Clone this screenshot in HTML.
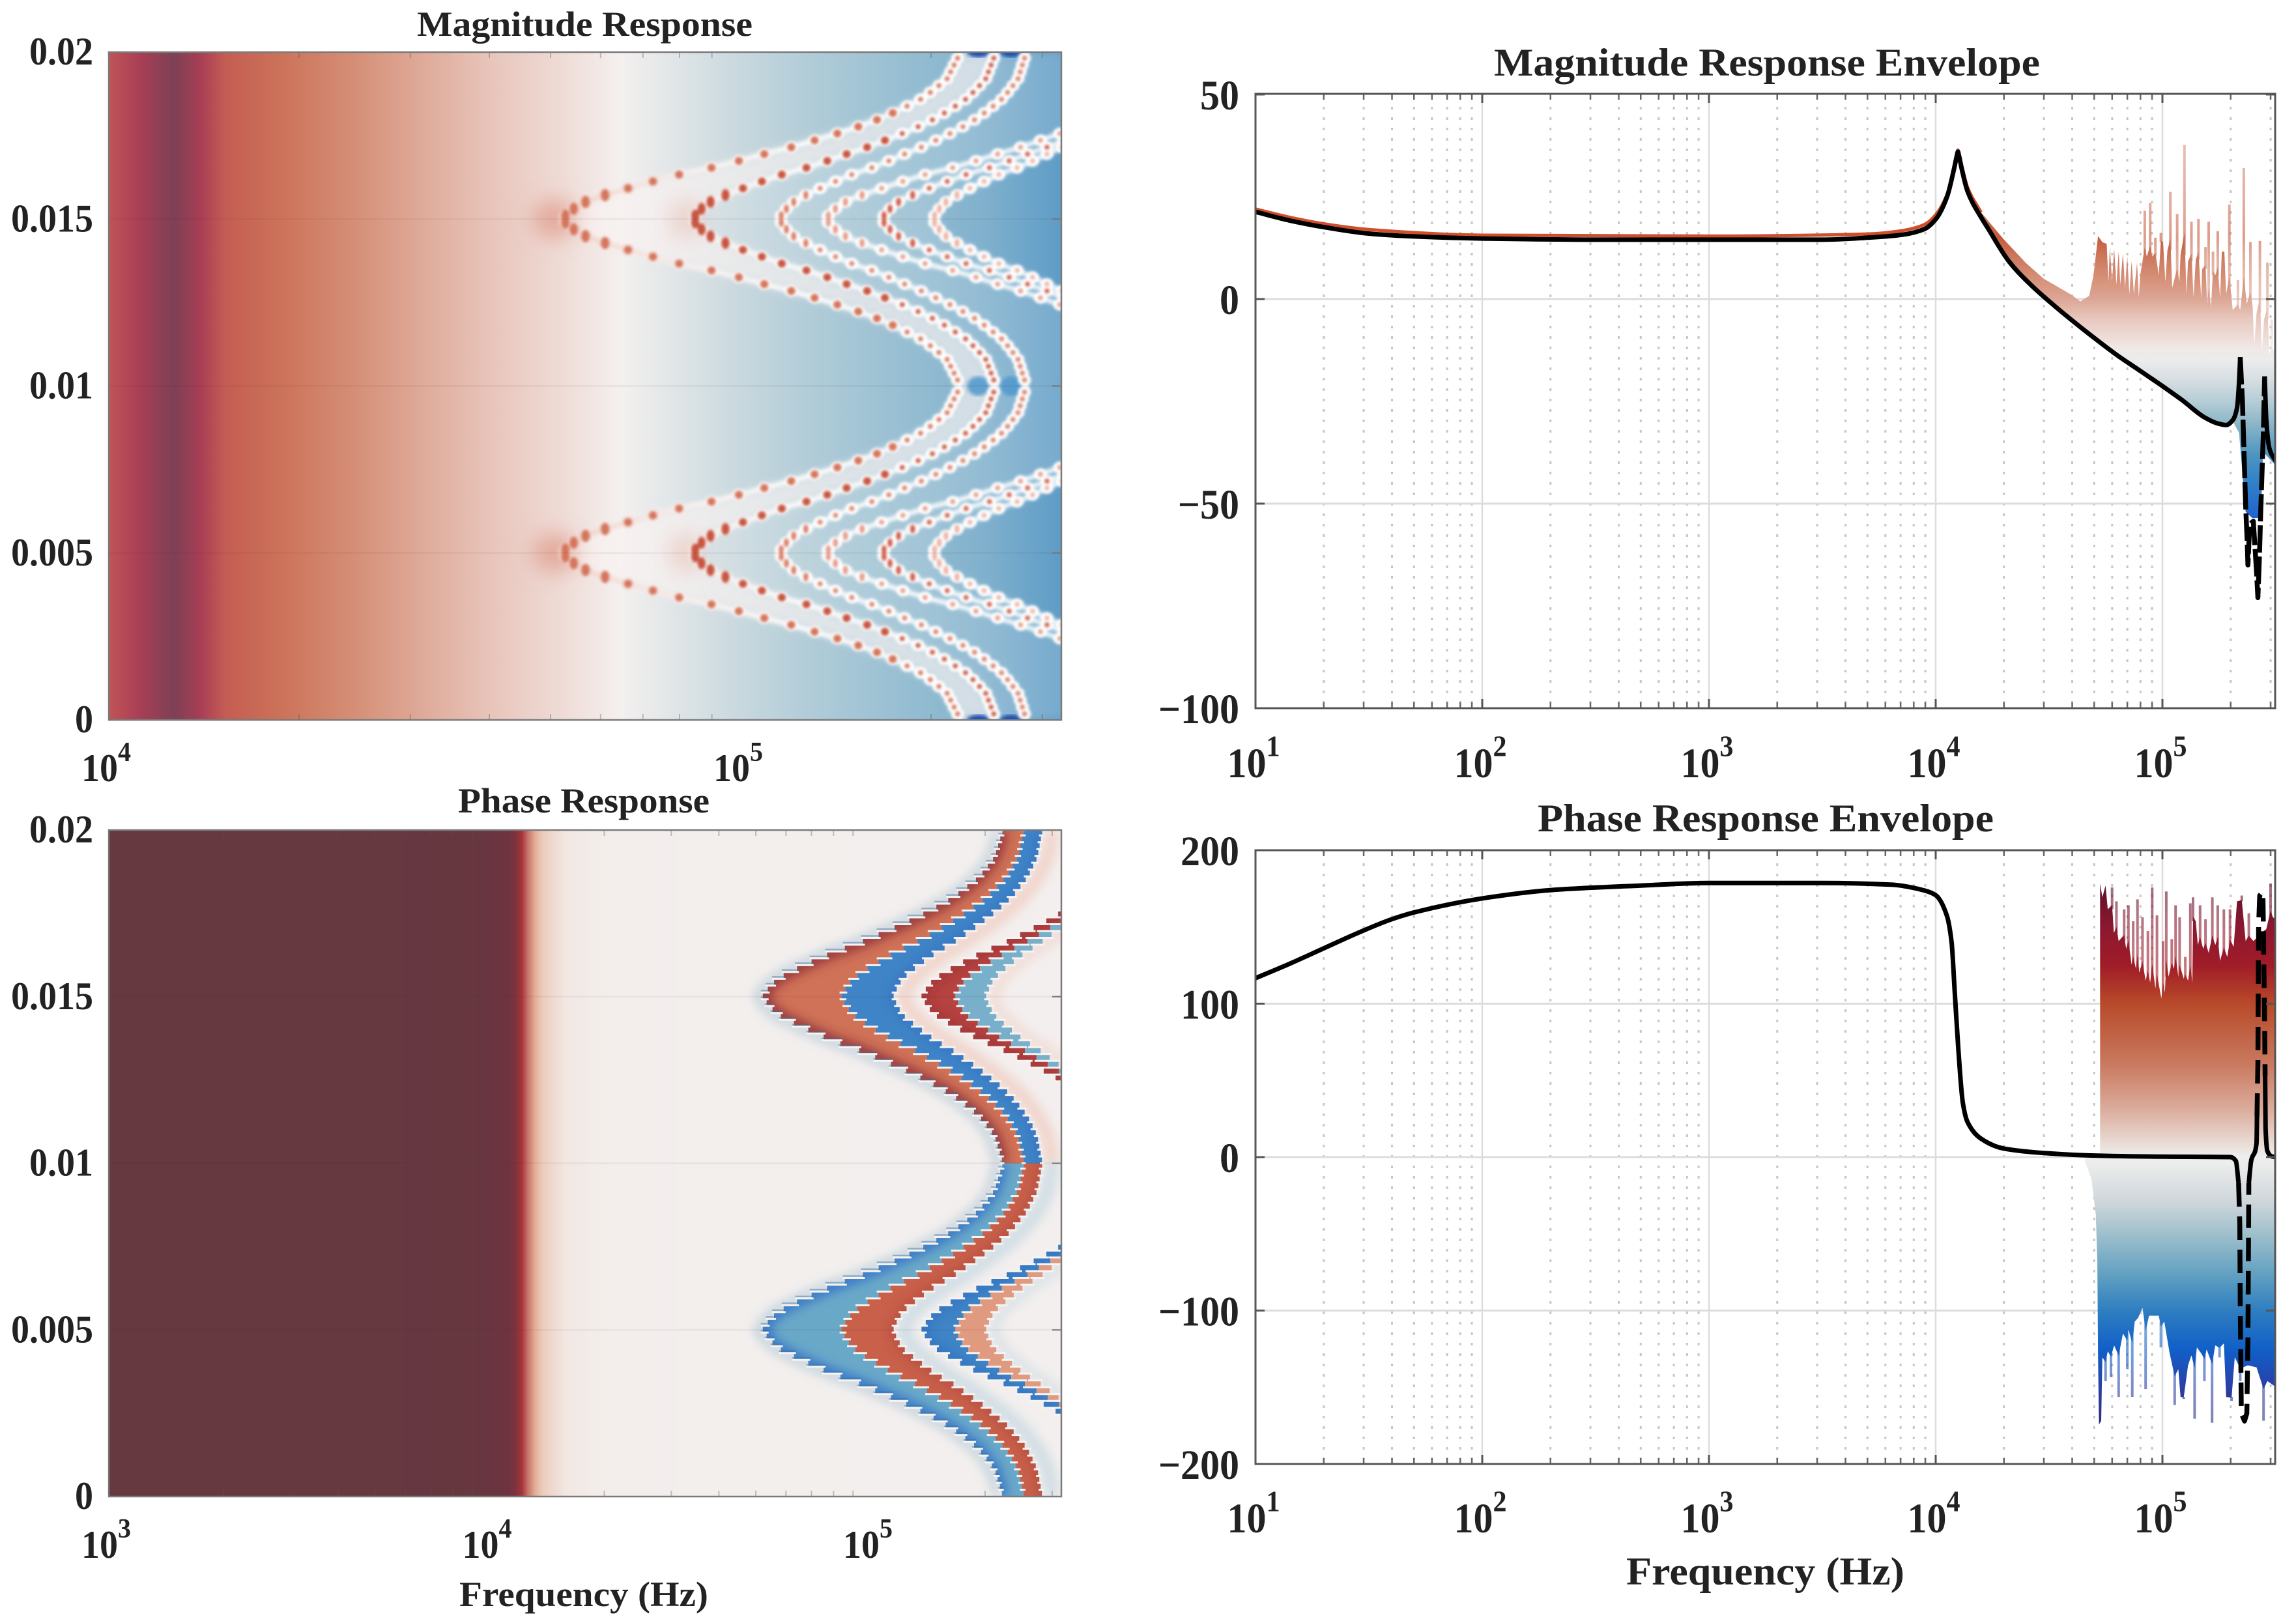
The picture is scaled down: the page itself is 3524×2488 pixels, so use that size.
<!DOCTYPE html>
<html lang="en">
<head>
<meta charset="utf-8">
<title>Magnitude and Phase Response</title>
<style>
html,body{margin:0;padding:0;background:#fff;width:3524px;height:2488px;overflow:hidden}
svg{display:block}
text{font-family:"Liberation Serif",serif;font-weight:700;fill:#222}
</style>
</head>
<body>
<svg id="figure" xmlns="http://www.w3.org/2000/svg" width="3524" height="2488" viewBox="0 0 3524 2488">
<defs id="defs">
<filter id="b1" x="-5%" y="-5%" width="110%" height="110%"><feGaussianBlur stdDeviation="1.4"/></filter>
<filter id="b2" x="-5%" y="-5%" width="110%" height="110%"><feGaussianBlur stdDeviation="2"/></filter>
<filter id="b3" x="-5%" y="-5%" width="110%" height="110%"><feGaussianBlur stdDeviation="3"/></filter>
<filter id="b8" x="-10%" y="-10%" width="120%" height="120%"><feGaussianBlur stdDeviation="8"/></filter>
<filter id="b16" x="-150%" y="-150%" width="400%" height="400%"><feGaussianBlur stdDeviation="16"/></filter>
</defs>
<rect width="3524" height="2488" fill="#fff"/>
<g id="panelA"></g>
<g id="panelB"></g>
<g id="panelC"></g>
<g id="panelD"></g>
<text x="640" y="55" font-size="54" textLength="515" lengthAdjust="spacingAndGlyphs">Magnitude Response</text>
<text x="703" y="1247" font-size="54" textLength="386" lengthAdjust="spacingAndGlyphs">Phase Response</text>
<text x="705" y="2465" font-size="54" textLength="382" lengthAdjust="spacingAndGlyphs">Frequency (Hz)</text>
<text x="2293" y="116" font-size="60" textLength="838" lengthAdjust="spacingAndGlyphs">Magnitude Response Envelope</text>
<text x="2360" y="1276" font-size="60" textLength="700" lengthAdjust="spacingAndGlyphs">Phase Response Envelope</text>
<text x="2496" y="2432" font-size="60" textLength="427" lengthAdjust="spacingAndGlyphs">Frequency (Hz)</text>
</svg>
<script>
// ---------- Heatmap resonance branches (log10 Hz) ----------
const branchTipLogF   = [4.716, 4.923, 5.060, 5.133, 5.222, 5.303];
const branchCrestLogF = [5.348, 5.404, 5.452, 5.671, 5.678, 5.660];
const branchShapeD = [0, .06, .11, .15, .19, .233, .274, .308, .35, .39, .43, .47, .507, .548, .589, .63, .67, .71, .753, .795, .836, 1];
const branchShapeS = [0, .03, .066, .118, .175, .241, .307, .377, .447, .509, .575, .632, .684, .737, .785, .825, .86, .895, .921, .943, .965, 1];
const branchPeriod = 0.01;
const sampleStepT = 0.000205;
const branchDotColor = ['#d4745c', '#c65440', '#d87e68', '#e49a88', '#cf5c48', '#ecb4a6'];

// Background of the heatmaps
const heatLogF = [4.0, 4.05, 4.103, 4.145, 4.185, 4.27, 4.386, 4.5, 4.61, 4.72, 4.81, 4.89, 5.0, 5.11, 5.28, 5.39, 5.507];
const heatDb   = [19, 24, 36, 24, 17, 12, 5.5, -0.3, -5.6, -10, -15, -18, -22, -25.5, -30, -33, -38];
const magCmapDb    = [-55, -45, -38, -30, -22, -15, -10, -5, 0, 5, 10, 15, 19, 24, 36];
const magCmapColor = ['#1c5fd0', '#3d88c3', '#5e9cc6', '#93bcd1', '#c8d8de', '#f4f0ef', '#efdcd7', '#e7c3b8', '#dfa998', '#d69078', '#cf7b60', '#c8654f', '#c05457', '#a83e55', '#7d4055'];
const phaseHeatDeg   = [0, 5, 12, 35, 105, 157, 180];
const phaseHeatColor = ['#f3efee', '#f3eeec', '#f2e8e3', '#e4b098', '#a83438', '#6e3340', '#653840'];
const phaseLobeUpper = ['#cf7257', '#3f84c6', '#f7ebe6', '#b5433f', '#78afcb'];
const phaseLobeLower = ['#6aa8c8', '#c8604a', '#f2f2f2', '#3f84c6', '#e09a80'];

// ---------- Magnitude envelope ----------
const magLogF = [1, 1.15, 1.3, 1.5, 1.7, 2, 2.5, 3, 3.5, 3.7, 3.85, 3.95, 4, 4.05, 4.08, 4.094, 4.098, 4.102, 4.115, 4.14, 4.2, 4.227, 4.323, 4.419, 4.514, 4.61, 4.706, 4.802, 4.898, 4.993, 5.089, 5.185, 5.243, 5.281, 5.31, 5.329, 5.338, 5.343, 5.353, 5.367, 5.374, 5.377, 5.385, 5.401, 5.415, 5.421, 5.428, 5.434, 5.445, 5.451, 5.458, 5.472, 5.501];
const magDb   = [21.3, 19.2, 17.6, 16, 15.3, 14.8, 14.5, 14.5, 14.5, 15, 15.7, 17.1, 19.5, 25, 31.6, 35.2, 36, 35.2, 31.8, 26.4, 20, 17.6, 9.2, 3.5, -1.2, -5.6, -9.8, -13.8, -17.4, -21, -24.8, -28.9, -30.4, -30.8, -29.6, -26.6, -20.4, -14.2, -25, -50.4, -59.7, -65, -55, -54.3, -66.6, -73, -62.8, -51.2, -32.7, -18.9, -29.6, -36.6, -39.7];
const magDashFromLogF = 5.343;
const upperLineLogF = [1, 1.15, 1.3, 1.5, 2, 3, 3.7, 3.85, 3.95, 4, 4.05, 4.08, 4.094, 4.098, 4.102, 4.115, 4.14, 4.2];
const upperLineDb   = [22, 20, 18.4, 17, 15.6, 15.4, 15.9, 16.7, 18.2, 20.6, 25.6, 32, 35.6, 36.4, 35.6, 32.6, 27.4, 21.2];
const magTopLogF = [4.2, 4.3, 4.4, 4.476, 4.6, 4.638, 4.677, 4.696, 4.716, 4.735, 4.754, 4.762, 4.768, 4.778, 4.787, 4.797, 4.807, 4.814, 4.826, 4.835, 4.845, 4.854, 4.864, 4.874, 4.888, 4.896, 4.902, 4.922, 4.931, 4.946, 4.955, 4.969, 4.984, 4.993, 5.003, 5.013, 5.022, 5.035, 5.043, 5.065, 5.075, 5.08, 5.097, 5.106, 5.113, 5.128, 5.137, 5.147, 5.159, 5.171, 5.175, 5.19, 5.197, 5.204, 5.214, 5.223, 5.233, 5.244, 5.254, 5.262, 5.273, 5.281, 5.295, 5.31, 5.333, 5.343, 5.359, 5.372, 5.388, 5.398, 5.405, 5.415, 5.43, 5.439, 5.448, 5.463, 5.472, 5.482, 5.501];
const magTopDb   = [21.2, 14.6, 8.7, 5, 1, -0.6, 0.8, 5.8, 15.4, 13.9, 13.5, 4.2, 12.7, 4.2, 12.3, 3.5, 11.6, 3.5, 11.2, 2.7, 10.4, 1.2, 9.2, 1.2, 8.9, 0.4, 5.8, 21.6, 10.4, 23.5, 10.4, 15, 5.8, 16.2, 13.9, 4.2, 11.9, 26.2, 2.7, 20.8, 4.2, 10.8, 37.7, 1.2, 9.2, 18.9, 0.4, 9.6, 19.6, 0, 7.3, 12.7, -1.2, 18.9, -1.9, 11.6, 5.8, 16.6, 0.4, 11.6, 11.6, 1.2, 23.1, -2.7, 4.6, -2.7, 32, -1.2, 13.9, -1.9, -11.2, -3.5, 14.2, -12.7, -5, 8.9, -13.5, -5, -13.5];
const magBottomLogF = [5.319, 5.338, 5.367, 5.396, 5.434, 5.444, 5.501];
const magBottomDb   = [-30.8, -32.7, -52, -53.5, -53.5, -37.3, -40.8];
const envDbStops   = [-55, -45, -38, -30, -25, -20, -15, -12, -5, 0, 5, 10, 15, 22, 40];
const envDbColors  = ['#1c5fd0', '#3080c8', '#4f95c0', '#8fb8c8', '#b5cdd6', '#d5dde1', '#ececec', '#f0e8e6', '#e8c8bf', '#dca695', '#d69078', '#cc7a60', '#c85a3c', '#cf7058', '#d99a90'];

// ---------- Phase envelope ----------
const phaseLogF = [1, 1.15, 1.3, 1.45, 1.6, 1.7, 2, 2.3, 2.7, 3, 3.5, 3.8, 3.95, 4, 4.05, 4.07, 4.085, 4.1, 4.12, 4.14, 4.2, 4.3, 4.5, 4.7, 5, 5.3, 5.324, 5.336, 5.341, 5.343, 5.348, 5.362, 5.372, 5.377, 5.381, 5.391, 5.415, 5.421, 5.424, 5.429, 5.443, 5.451, 5.455, 5.463, 5.482, 5.501];
const phaseDeg  = [116.6, 126, 136, 146, 155, 159.5, 168.6, 174, 177, 178.7, 178.7, 177.6, 173.8, 170.7, 157, 140, 105, 70, 35, 23, 12, 5.6, 2.4, 1, 0.3, 0, -2.6, -17, -43, -94, -167, -172, -167, -120, -17, -2.6, 9, 61, 151, 170.5, 173, 86.6, 19, 3.9, 0.5, 0];
const phaseDashRanges = [[5.336, 5.381], [5.417, 5.453]];
const phaseTopLogF = [4.725, 4.735, 4.749, 4.759, 4.778, 4.786, 4.797, 4.807, 4.831, 4.84, 4.85, 4.864, 4.871, 4.883, 4.89, 4.898, 4.912, 4.926, 4.936, 4.946, 4.955, 4.969, 4.976, 4.995, 5.003, 5.011, 5.017, 5.027, 5.041, 5.051, 5.058, 5.07, 5.076, 5.094, 5.101, 5.113, 5.123, 5.132, 5.135, 5.147, 5.156, 5.166, 5.18, 5.19, 5.204, 5.22, 5.233, 5.244, 5.254, 5.271, 5.286, 5.298, 5.314, 5.329, 5.35, 5.367, 5.381, 5.401, 5.42, 5.434, 5.458, 5.477, 5.487, 5.501];
const phaseTopDeg  = [178.3, 169.3, 177, 161.5, 175.7, 146, 166.7, 140.8, 161.5, 135.7, 164.1, 125.3, 153.7, 122.7, 168, 120.2, 156.3, 115, 147.3, 113.7, 175.7, 109.8, 157.6, 103.4, 140.8, 107.2, 173.1, 117.6, 142.1, 122.7, 164.1, 117.6, 156.3, 116.3, 130.5, 115, 165.4, 113.7, 169.3, 153.7, 138.2, 164.1, 135.7, 155, 133.1, 169.3, 138.2, 164.1, 127.9, 161.5, 130.5, 161.5, 137, 166.7, 170.5, 140.8, 158.9, 140.8, 143.4, 146, 148.6, 178.3, 156.3, 155];
const phaseLowLogF = [4.658, 4.687, 4.706, 4.713, 4.716, 4.72, 4.73, 4.735, 4.749, 4.759, 4.773, 4.787, 4.807, 4.826, 4.845, 4.85, 4.867, 4.878, 4.893, 4.912, 4.926, 4.941, 4.984, 4.993, 5.008, 5.032, 5.054, 5.07, 5.08, 5.094, 5.113, 5.128, 5.142, 5.152, 5.171, 5.185, 5.195, 5.219, 5.233, 5.252, 5.271, 5.281, 5.305, 5.319, 5.343, 5.377, 5.415, 5.446, 5.463, 5.501];
const phaseLowDeg  = [-2.6, -14.2, -37.5, -68.5, -130.5, -174.4, -171.8, -130.5, -146, -126.6, -143.4, -122.7, -156.3, -115, -138.2, -112.4, -156.3, -107.2, -104.7, -98.2, -151.2, -103.4, -103.4, -124, -107.2, -127.9, -161.5, -138.2, -156.3, -157.6, -135.7, -129.2, -170.5, -124, -127.9, -146, -125.3, -173.1, -122.7, -130.5, -121.4, -156.3, -158.9, -130.5, -146, -135.7, -137, -171.8, -146, -149.9];
const phaseFillDeg   = [-175, -150, -125, -100, -80, -50, -30, -5, 0, 5, 30, 60, 100, 125, 150, 178];
const phaseFillColor = ['#2c2c70', '#2a3fa8', '#1060c8', '#2f7ec0', '#5a9cc0', '#9fc0cc', '#cdd6da', '#ececec', '#eeeeee', '#ece4e0', '#dcae9e', '#c97a60', '#b84a2a', '#a01c28', '#8a1830', '#5e1028'];

// ---------- Axis ticks ----------
const timeTicks = [0, 0.005, 0.01, 0.015, 0.02];
const timeTickLabels = ['0', '0.005', '0.01', '0.015', '0.02'];
const magHeatDecades = [4, 5];
const phaseHeatDecades = [3, 4, 5];
const envelopeDecades = [1, 2, 3, 4, 5];
const magTicks = [50, 0, -50, -100];
const magTickLabels = ['50', '0', '\u221250', '\u2212100'];
const phaseTicks = [200, 100, 0, -100, -200];
const phaseTickLabels = ['200', '100', '0', '\u2212100', '\u2212200'];
const minorMultiples = [2, 3, 4, 5, 6, 7, 8, 9];

// ---------- Axis functions ----------
const xA = v => 167 + (v - 4) * 970;
const yA = t => 1105 - t / 0.02 * 1025;
const xB = v => 167 + (v - 3) * 584.5;
const yB = t => 2297 - t / 0.02 * 1023;
const xE = v => 1927 + (v - 1) * 348;
const yC = v => 459 - v * 6.28;
const yD = v => 1776 - v * 2.355;

const NS = 'http://www.w3.org/2000/svg';
function mk(tag, attrs, parent) {
  const e = document.createElementNS(NS, tag);
  for (const k in attrs) e.setAttribute(k, attrs[k]);
  (parent || document.getElementById('figure')).appendChild(e);
  return e;
}
function interp(xs, ys, x) {
  if (x <= xs[0]) return ys[0];
  for (let i = 1; i < xs.length; i++) if (x <= xs[i]) return ys[i - 1] + (ys[i] - ys[i - 1]) * (x - xs[i - 1]) / (xs[i] - xs[i - 1]);
  return ys[ys.length - 1];
}
function colorAt(vals, cols, v) {
  if (v <= vals[0]) return cols[0];
  for (let i = 1; i < vals.length; i++) if (v <= vals[i]) {
    const f = (v - vals[i - 1]) / (vals[i] - vals[i - 1]);
    const a = cols[i - 1], b = cols[i];
    let s = '#';
    for (let j = 1; j < 7; j += 2) {
      const c = Math.round(parseInt(a.substr(j, 2), 16) * (1 - f) + parseInt(b.substr(j, 2), 16) * f);
      s += (c < 16 ? '0' : '') + c.toString(16);
    }
    return s;
  }
  return cols[cols.length - 1];
}
function branchLogF(b, t) {
  const p = ((t % branchPeriod) + branchPeriod) % branchPeriod;
  const d = Math.abs(p - branchPeriod / 2) / (branchPeriod / 2);
  return branchTipLogF[b] + (branchCrestLogF[b] - branchTipLogF[b]) * interp(branchShapeD, branchShapeS, d);
}
const defs = document.getElementById('defs');
function clipRect(id, x, y, w, h) {
  const c = mk('clipPath', { id: id }, defs);
  mk('rect', { x: x, y: y, width: w, height: h }, c);
}
clipRect('clipA', 167, 80, 1462, 1025);
clipRect('clipB', 167, 1274, 1462, 1023);
clipRect('clipC', 1927, 144, 1565, 943);
clipRect('clipD', 1927, 1305, 1565, 942);

function branchPath(b, t0, t1, X, Y) {
  let d = '';
  const n = Math.round((t1 - t0) / 0.00005);
  for (let i = 0; i <= n; i++) {
    const t = t0 + (t1 - t0) * i / n;
    d += (i ? 'L' : 'M') + X(branchLogF(b, t)).toFixed(1) + ' ' + Y(t).toFixed(1);
  }
  return d;
}
function bandPolygon(b0, b1, t0, t1, X, Y) {
  let a = [], c = [];
  const n = Math.round((t1 - t0) / 0.00005);
  for (let i = 0; i <= n; i++) {
    const t = t0 + (t1 - t0) * i / n;
    a.push(X(branchLogF(b0, t)).toFixed(1) + ',' + Y(t).toFixed(1));
    c.unshift(X(branchLogF(b1, t)).toFixed(1) + ',' + Y(t).toFixed(1));
  }
  return a.concat(c).join(' ');
}
function stairPoints(b, t0, t1, X, Y) {
  const pts = [];
  const n = Math.ceil((t1 - t0) / sampleStepT);
  for (let k = 0; k <= n; k++) {
    const t = Math.min(t1, t0 + k * sampleStepT);
    const tn = Math.min(t1, t + sampleStepT);
    const x = X(branchLogF(b, t + sampleStepT / 2));
    pts.push([x, Y(t)]);
    pts.push([x, Y(tn)]);
  }
  return pts;
}

// ---------- Shared axis decoration ----------
function heatFrame(panel, X, Y, x0, x1, y0, y1, decades, prefix) {
  const g = mk('g', {}, panel);
  
  
  timeTicks.forEach((t, i) => {
    if (i > 0 && i < timeTicks.length - 1) {
      const gl = mk('line', { x1: x0, x2: x1, y1: Y(t), y2: Y(t), stroke: '#402020', 'stroke-opacity': .05, 'stroke-width': 3 }, g);
      
      
      const tk = mk('line', { x1: x1 - 14, x2: x1, y1: Y(t), y2: Y(t), stroke: '#777', 'stroke-width': 2 }, g);
      
      
    }
    const lab = mk('text', { 'text-anchor': 'end', 'font-size': 56, transform: 'translate(' + 143 + ',' + (Y(t) + 19) + ') scale(1,1.07)' }, g);
    lab.textContent = timeTickLabels[i];
    
    
  });
  decades.forEach(dec => {
    minorMultiples.forEach(m => {
      const v = dec + Math.log10(m);
      if (X(v) < x1) {
        [y0, y1 - 9].forEach(yy => {
          const tk = mk('line', { x1: X(v), x2: X(v), y1: yy, y2: yy + 9, stroke: '#555', 'stroke-opacity': .35, 'stroke-width': 2 }, g);
          
          
        });
      }
    });
    const lab = mk('text', { 'text-anchor': 'middle', 'font-size': 56, transform: 'translate(' + (X(dec) - 4) + ',' + (y1 + 94) + ') scale(1,1.07)' }, g);
    
    
    const a = mk('tspan', {}, lab); a.textContent = '10';
    const b = mk('tspan', { dy: -29, 'font-size': 40 }, lab); b.textContent = String(dec);
  });
  const fr = mk('rect', { x: x0, y: y0, width: x1 - x0, height: y1 - y0, fill: 'none', stroke: '#7a7a7a', 'stroke-width': 2.5 }, g);
  
  
}
function lineFrameUnder(panel, yFn, ticks, x0, x1, y0, y1, prefix) {
  const g = mk('g', {}, panel);
  
  
  envelopeDecades.forEach(dec => {
    minorMultiples.forEach(m => {
      const v = dec + Math.log10(m);
      if (xE(v) < x1) {
        const l = mk('line', { x1: xE(v), x2: xE(v), y1: y0 + 20, y2: y1, stroke: '#c6c6c6', 'stroke-width': 3, 'stroke-dasharray': '4 12' }, g);
        
        
      }
    });
    if (dec > 1) {
      const l = mk('line', { x1: xE(dec), x2: xE(dec), y1: y0, y2: y1, stroke: '#dcdcdc', 'stroke-width': 2.5 }, g);
      
      
    }
  });
  ticks.forEach(t => {
    const l = mk('line', { x1: x0, x2: x1, y1: yFn(t), y2: yFn(t), stroke: '#dcdcdc', 'stroke-width': 3 }, g);
    
    
  });
}
function lineFrameOver(panel, yFn, ticks, labels, x0, x1, y0, y1, prefix, xLabBase) {
  const g = mk('g', {}, panel);
  
  
  ticks.forEach((t, i) => {
    [[x0, x0 + 14], [x1 - 14, x1]].forEach(p => {
      const l = mk('line', { x1: p[0], x2: p[1], y1: yFn(t), y2: yFn(t), stroke: '#555', 'stroke-width': 3 }, g);
      
      
    });
    const lab = mk('text', { 'text-anchor': 'end', 'font-size': 60, transform: 'translate(1902,' + (yFn(t) + 23) + ') scale(1,1.08)' }, g);
    lab.textContent = labels[i];
    
    
  });
  envelopeDecades.forEach(dec => {
    [[y0, y0 + 14], [y1 - 14, y1]].forEach(p => {
      const l = mk('line', { x1: xE(dec), x2: xE(dec), y1: p[0], y2: p[1], stroke: '#555', 'stroke-width': 3 }, g);
      
      
    });
    minorMultiples.forEach(m => {
      const v = dec + Math.log10(m);
      if (xE(v) < x1) {
        [[y0, y0 + 9], [y1 - 9, y1]].forEach(p => {
          const l = mk('line', { x1: xE(v), x2: xE(v), y1: p[0], y2: p[1], stroke: '#666', 'stroke-width': 2.5 }, g);
          
          
        });
      }
    });
    const lab = mk('text', { 'text-anchor': 'middle', 'font-size': 60, transform: 'translate(' + (xE(dec) - 3) + ',' + xLabBase + ') scale(1,1.08)' }, g);
    
    
    const a = mk('tspan', {}, lab); a.textContent = '10';
    const b = mk('tspan', { dy: -30, 'font-size': 42 }, lab); b.textContent = String(dec);
  });
  const fr = mk('rect', { x: x0, y: y0, width: x1 - x0, height: y1 - y0, fill: 'none', stroke: '#555', 'stroke-width': 3 }, g);
  
  
}

// ---------- Panel A: magnitude heatmap ----------
(function () {
  const panel = document.getElementById('panelA');
  const lg = mk('linearGradient', { id: 'heatBgA', gradientUnits: 'userSpaceOnUse', x1: xA(4), x2: xA(5.507), y1: 0, y2: 0 }, defs);
  heatLogF.forEach((v, i) => {
    mk('stop', { offset: (v - 4) / 1.507, 'stop-color': colorAt(magCmapDb, magCmapColor, heatDb[i]) }, lg);
  });
  const lineGrad = mk('linearGradient', { id: 'haloA', gradientUnits: 'userSpaceOnUse', x1: xA(4.7), x2: xA(5.1), y1: 0, y2: 0 }, defs);
  mk('stop', { offset: 0, 'stop-color': '#eecabf' }, lineGrad);
  mk('stop', { offset: .55, 'stop-color': '#f8f0ee' }, lineGrad);
  mk('stop', { offset: 1, 'stop-color': '#ffffff' }, lineGrad);

  const g = mk('g', { 'clip-path': 'url(#clipA)' }, panel);
  
  
  const bg = mk('rect', { x: 167, y: 80, width: 1462, height: 1025, fill: 'url(#heatBgA)' }, g);
  
  

  const lobes = [[0, 0.01], [0.01, 0.02]];
  lobes.forEach(l => {
    const pale = mk('polygon', { points: bandPolygon(0, 5, l[0], l[1], xA, yA), fill: '#f3f3f4', 'fill-opacity': .16, filter: 'url(#b8)' }, g);
    
    
    const pale2 = mk('polygon', { points: bandPolygon(0, 1, l[0], l[1], xA, yA), fill: '#f8f2f0', 'fill-opacity': .62, filter: 'url(#b8)' }, g);
    
    
    const tc = (l[0] + l[1]) / 2;
    [[0, '#dd8c78', 34, .6], [1, '#e8b0a0', 24, .45]].forEach(s => {
      const cloud = mk('ellipse', { cx: xA(branchTipLogF[s[0]]) - 10, cy: yA(tc), rx: s[2], ry: 30, fill: s[1], 'fill-opacity': s[3], filter: 'url(#b16)' }, g);
      
      
    });
  });
  // blue spots between the crests
  [[0, 1, 0.01, '#4f96cc', .85], [1, 2, 0.01, '#4f96cc', .85], [0, 1, 0, '#1f4fb0', 1], [1, 2, 0, '#1f4fb0', 1], [0, 1, 0.02, '#1f4fb0', 1], [1, 2, 0.02, '#1f4fb0', 1]].forEach(s => {
    const mid = (branchCrestLogF[s[0]] + branchCrestLogF[s[1]]) / 2;
    const spot = mk('ellipse', { cx: xA(mid), cy: yA(s[2]), rx: 17, ry: s[2] === 0.01 ? 15 : 8, fill: s[3], 'fill-opacity': s[4], filter: 'url(#b3)' }, g);
    
    
  });
  const lines = mk('g', { filter: 'url(#b3)' }, g);
  
  
  branchTipLogF.forEach((_, b) => {
    lobes.forEach(l => {
      const p = mk('path', { d: branchPath(b, l[0], l[1], xA, yA), fill: 'none', stroke: 'url(#haloA)', 'stroke-width': 7, 'stroke-opacity': .95 }, lines);
      
      
    });
  });
  const halos = mk('g', { filter: 'url(#b2)' }, g);
  
  
  const dots = mk('g', { filter: 'url(#b2)' }, g);
  
  
  branchTipLogF.forEach((_, b) => {
    lobes.forEach(l => {
      const tc = (l[0] + l[1]) / 2;
      [-1, 1].forEach(dir => {
        for (let k = 0; k * sampleStepT < 0.0048; k++) {
          const t = tc + dir * (k + .5) * sampleStepT;
          const lf = branchLogF(b, t);
          if (xA(lf) > 1640) continue;
          const h = mk('ellipse', { cx: xA(lf), cy: yA(t), rx: 10, ry: 9, fill: 'url(#haloA)' }, halos);
          
          
          const steep = k < 4 ? 3 : 0;
          const big = (b === 0 || b === 1) && lf < 5.25 ? 2.4 : 0;
          const c = mk('ellipse', { cx: xA(lf), cy: yA(t), rx: 3.8 + big, ry: 3.8 + big + steep, fill: branchDotColor[b] }, dots);
          
          
        }
      });
    });
  });
  heatFrame(panel, xA, yA, 167, 1629, 80, 1105, magHeatDecades, 'magnitude-heatmap');
})();

// ---------- Panel B: phase heatmap ----------
(function () {
  const panel = document.getElementById('panelB');
  const lg = mk('linearGradient', { id: 'heatBgB', gradientUnits: 'userSpaceOnUse', x1: xB(3), x2: xB(5.5), y1: 0, y2: 0 }, defs);
  const maxLog = 4.6;
  for (let v = 3; v <= maxLog + 1e-9; v += 0.005) {
    mk('stop', { offset: (v - 3) / 2.5, 'stop-color': colorAt(phaseHeatDeg, phaseHeatColor, interp(phaseLogF, phaseDeg, v)) }, lg);
  }
  mk('stop', { offset: 1, 'stop-color': '#f3efee' }, lg);
  const g = mk('g', { 'clip-path': 'url(#clipB)' }, panel);
  
  
  const bg = mk('rect', { x: 167, y: 1274, width: 1462, height: 1023, fill: 'url(#heatBgB)' }, g);
  
  

  const lobes = [[0.01, 0.02, phaseLobeUpper, '#eebfae', '#8b2a35', '#2f66c0', '#8f2a30'], [0, 0.01, phaseLobeLower, '#b5d0dc', '#2f6cc8', '#a83a35', '#2a62c0']];
  lobes.forEach((l, li) => {
    // soft glows
    const out = mk('path', { d: branchPath(0, l[0], l[1], xB, yB), fill: 'none', stroke: '#7fa9c4', 'stroke-width': 12, 'stroke-opacity': .45, filter: 'url(#b8)', transform: 'translate(-8,0)' }, g);
    
    
    const glow = mk('path', { d: branchPath(2, l[0], l[1], xB, yB), fill: 'none', stroke: l[3], 'stroke-width': 22, 'stroke-opacity': .55, filter: 'url(#b8)', transform: 'translate(16,0)' }, g);
    
    
    const glow2 = mk('path', { d: branchPath(5, l[0], l[1], xB, yB), fill: 'none', stroke: l[3], 'stroke-width': 16, 'stroke-opacity': .4, filter: 'url(#b8)', transform: 'translate(12,0)' }, g);
    
    
    // bands
    [0, 1, 3, 4].forEach(i => {
      const a = stairPoints(i, l[0], l[1], xB, yB);
      const b = stairPoints(i + 1, l[0], l[1], xB, yB).reverse();
      const pts = a.concat(b).map(p => p[0].toFixed(1) + ',' + p[1].toFixed(1)).join(' ');
      const cid = 'bandClip' + li + '_' + i;
      const cp = mk('clipPath', { id: cid }, defs);
      mk('polygon', { points: pts }, cp);
      const band = mk('polygon', { points: pts, fill: l[2][i] }, g);
      
      
      const deep = i === 0 ? [0, l[4]] : i === 1 ? [2, l[5]] : i === 3 ? [3, l[6]] : null;
      if (deep) {
        const cg = mk('g', { 'clip-path': 'url(#' + cid + ')' }, g);
        
        
        const d = mk('path', { d: branchPath(deep[0], l[0], l[1], xB, yB), fill: 'none', stroke: deep[1], 'stroke-width': i === 0 ? 18 : 12, 'stroke-opacity': i === 0 ? .85 : .6, filter: 'url(#b8)' }, cg);
        
        
      }
    });
    // white stair highlights
    const hl = mk('g', {}, g);
    
    
    [0, 1, 2, 3, 4, 5].forEach(b => {
      const pts = stairPoints(b, l[0], l[1], xB, yB);
      let d = '', d2 = '';
      for (let i = 1; i + 1 < pts.length; i += 2) {
        const xa = Math.min(pts[i][0], pts[i + 1][0]) - 3;
        const xb = Math.max(pts[i][0], pts[i + 1][0]) + 3;
        const yy = pts[i][1];
        d += 'M' + xa.toFixed(1) + ' ' + yy.toFixed(1) + 'H' + xb.toFixed(1);
        d2 += 'M' + xa.toFixed(1) + ' ' + (yy - 3).toFixed(1) + 'H' + xb.toFixed(1);
      }
      if (b === 0) {
        const sh = mk('path', { d: d2, stroke: '#3a6f9c', 'stroke-width': 2.5, 'stroke-opacity': .45, fill: 'none' }, hl);
        
        
      }
      const w = mk('path', { d: d, stroke: '#f6f4f2', 'stroke-width': 3, fill: 'none' }, hl);
      
      
    });
  });
  heatFrame(panel, xB, yB, 167, 1629, 1274, 2297, phaseHeatDecades, 'phase-heatmap');
})();

// ---------- Line helpers ----------
function polyD(xs, ys, X, Y) {
  return xs.map((v, i) => (i ? 'L' : 'M') + X(v).toFixed(1) + ' ' + Y(ys[i]).toFixed(1)).join('');
}
// monotone cubic through the data points, so the response curves stay smooth
function smoothD(xs, ys, X, Y) {
  const px = xs.map(X), py = ys.map(Y), n = px.length;
  if (n < 3) return polyD(xs, ys, X, Y);
  const sl = [], m = [];
  for (let i = 0; i < n - 1; i++) sl.push((py[i + 1] - py[i]) / (px[i + 1] - px[i]));
  m.push(sl[0]);
  for (let i = 1; i < n - 1; i++) {
    if (sl[i - 1] * sl[i] <= 0) m.push(0);
    else {
      const h0 = px[i] - px[i - 1], h1 = px[i + 1] - px[i];
      m.push(3 * (h0 + h1) / ((2 * h1 + h0) / sl[i - 1] + (h1 + 2 * h0) / sl[i]));
    }
  }
  m.push(sl[n - 2]);
  let d = 'M' + px[0].toFixed(1) + ' ' + py[0].toFixed(1);
  for (let i = 0; i < n - 1; i++) {
    const h = (px[i + 1] - px[i]) / 3;
    d += 'C' + (px[i] + h).toFixed(1) + ' ' + (py[i] + m[i] * h).toFixed(1) + ' ' + (px[i + 1] - h).toFixed(1) + ' ' + (py[i + 1] - m[i + 1] * h).toFixed(1) + ' ' + px[i + 1].toFixed(1) + ' ' + py[i + 1].toFixed(1);
  }
  return d;
}
function drawSegments(parent, xs, ys, X, Y, ranges, dash, name, width) {
  const edges = [xs[0]];
  ranges.forEach(r => { edges.push(r[0]); edges.push(r[1]); });
  edges.push(xs[xs.length - 1]);
  for (let i = 0; i + 1 < edges.length; i++) {
    const a = edges[i], b = edges[i + 1];
    if (b <= a) continue;
    const dashed = i % 2 === 1;
    const sx = [a], sy = [interp(xs, ys, a)];
    xs.forEach((v, j) => { if (v > a && v < b) { sx.push(v); sy.push(ys[j]); } });
    sx.push(b); sy.push(interp(xs, ys, b));
    const attrs = { d: dashed ? polyD(sx, sy, X, Y) : smoothD(sx, sy, X, Y), fill: 'none', stroke: '#000', 'stroke-width': dashed ? width + 0.5 : width, 'stroke-linejoin': 'round' };
    if (dashed) attrs['stroke-dasharray'] = dash;
    const p = mk('path', attrs, parent);
    
    
  }
}
// separates tall thin spikes from the solid body of an envelope
function splitSpikes(xs, ys, sign, fromLog) {
  const body = ys.slice(), spikes = [];
  for (let i = 1; i < xs.length - 1; i++) {
    const v = sign * ys[i], p = sign * ys[i - 1], q = sign * ys[i + 1];
    if (xs[i] >= fromLog && v > p && v > q) {
      const base = Math.max(p, q);
      body[i] = sign * (base + .2 * (v - base));
      spikes.push([xs[i], sign * base, ys[i]]);
    }
  }
  return { body: body, spikes: spikes };
}
function drawSpikes(parent, spikes, Y, fillUrl, name) {
  spikes.forEach(s => {
    const y0 = Y(s[1]), y1 = Y(s[2]);
    const r = mk('rect', { x: (xE(s[0]) - 2).toFixed(1), y: Math.min(y0, y1).toFixed(1), width: 4, height: Math.abs(y1 - y0).toFixed(1), fill: fillUrl, 'fill-opacity': .6 }, parent);
    
    
  });
}

// ---------- Panel C: magnitude envelope ----------
(function () {
  const panel = document.getElementById('panelC');
  lineFrameUnder(panel, yC, [0, -50], 1927, 3492, 144, 1087, 'magnitude-envelope');
  const lg = mk('linearGradient', { id: 'envC', gradientUnits: 'userSpaceOnUse', x1: 0, x2: 0, y1: yC(40), y2: yC(-55) }, defs);
  envDbStops.slice().reverse().forEach((v, i) => {
    mk('stop', { offset: (40 - v) / 95, 'stop-color': envDbColors[envDbColors.length - 1 - i] }, lg);
  });
  const g = mk('g', { 'clip-path': 'url(#clipC)' }, panel);
  
  
  const lowerX = [], lowerY = [];
  magLogF.forEach((v, i) => { if (v >= 4.2 && v < magBottomLogF[0]) { lowerX.push(v); lowerY.push(magDb[i]); } });
  magBottomLogF.forEach((v, i) => { lowerX.push(v); lowerY.push(magBottomDb[i]); });
  const split = splitSpikes(magTopLogF, magTopDb, 1, 4.91);
  let pts = magTopLogF.map((v, i) => xE(v).toFixed(1) + ',' + yC(split.body[i]).toFixed(1));
  for (let i = lowerX.length - 1; i >= 0; i--) pts.push(xE(lowerX[i]).toFixed(1) + ',' + yC(lowerY[i]).toFixed(1));
  const fill = mk('polygon', { points: pts.join(' '), fill: 'url(#envC)' }, g);
  
  
  drawSpikes(g, split.spikes, yC, 'url(#envC)', 'magnitude-envelope-spike');
  const up = mk('path', { d: smoothD(upperLineLogF, upperLineDb, xE, yC), fill: 'none', stroke: '#cf4f2c', 'stroke-width': 5 }, g);
  
  
  drawSegments(g, magLogF, magDb, xE, yC, [[magDashFromLogF, magLogF[magLogF.length - 4]]], '42 6', 'magnitude-lower-envelope-line', 7);
  lineFrameOver(panel, yC, magTicks, magTickLabels, 1927, 3492, 144, 1087, 'magnitude-envelope', 1193);
})();

// ---------- Panel D: phase envelope ----------
(function () {
  const panel = document.getElementById('panelD');
  lineFrameUnder(panel, yD, [100, 0, -100], 1927, 3492, 1305, 2247, 'phase-envelope');
  const lg = mk('linearGradient', { id: 'envD', gradientUnits: 'userSpaceOnUse', x1: 0, x2: 0, y1: yD(178), y2: yD(-175) }, defs);
  phaseFillDeg.slice().reverse().forEach((v, i) => {
    mk('stop', { offset: (178 - v) / 353, 'stop-color': phaseFillColor[phaseFillColor.length - 1 - i] }, lg);
  });
  const g = mk('g', { 'clip-path': 'url(#clipD)' }, panel);
  
  
  const topSplit = splitSpikes(phaseTopLogF, phaseTopDeg, 1, 4.76);
  const up = [xE(phaseTopLogF[0]).toFixed(1) + ',' + yD(0).toFixed(1)].concat(phaseTopLogF.map((v, i) => xE(v).toFixed(1) + ',' + yD(topSplit.body[i]).toFixed(1)));
  up.push(xE(phaseTopLogF[phaseTopLogF.length - 1]).toFixed(1) + ',' + yD(0).toFixed(1));
  const fu = mk('polygon', { points: up.join(' '), fill: 'url(#envD)' }, g);
  
  
  drawSpikes(g, topSplit.spikes, yD, 'url(#envD)', 'phase-envelope-upper-spike');
  const lowSplit = splitSpikes(phaseLowLogF, phaseLowDeg, -1, 4.735);
  const low = [xE(phaseLowLogF[0]).toFixed(1) + ',' + yD(0).toFixed(1)].concat(phaseLowLogF.map((v, i) => xE(v).toFixed(1) + ',' + yD(lowSplit.body[i]).toFixed(1)));
  low.push(xE(phaseLowLogF[phaseLowLogF.length - 1]).toFixed(1) + ',' + yD(0).toFixed(1));
  const fl = mk('polygon', { points: low.join(' '), fill: 'url(#envD)' }, g);
  
  
  drawSpikes(g, lowSplit.spikes, yD, 'url(#envD)', 'phase-envelope-lower-spike');
  drawSegments(g, phaseLogF, phaseDeg, xE, yD, phaseDashRanges, '36 15', 'phase-envelope-line', 7);
  lineFrameOver(panel, yD, phaseTicks, phaseTickLabels, 1927, 3492, 1305, 2247, 'phase-envelope', 2352);
})();
</script>
</body>
</html>
